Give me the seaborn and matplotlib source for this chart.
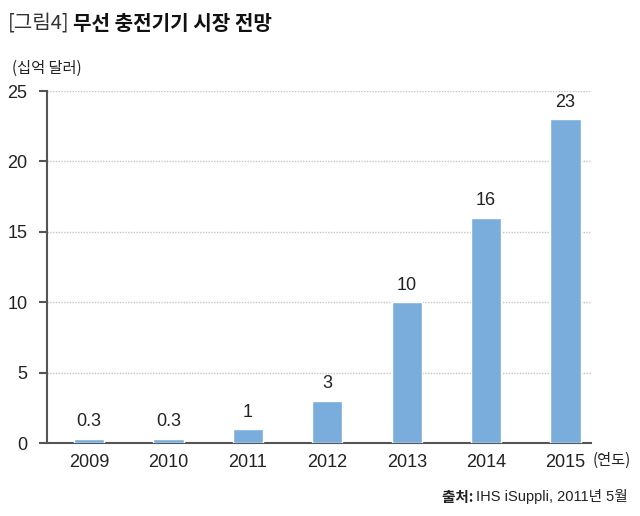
import matplotlib
matplotlib.use("Agg")
import matplotlib.pyplot as plt
from matplotlib import font_manager
import seaborn as sns
import pandas as pd

years = ["2009", "2010", "2011", "2012", "2013", "2014", "2015"]
values = [0.3, 0.3, 1, 3, 10, 16, 23]
value_labels = ["0.3", "0.3", "1", "3", "10", "16", "23"]
yticks = [0, 5, 10, 15, 20, 25]

title_tag = "[그림4]"
title_main = "무선 충전기기 시장 전망"
unit_label = "(십억 달러)"
year_unit = "(연도)"
source_bold = "출처: "
source_rest = "IHS iSuppli, 2011년 5월"

sns.set_style("white")
names = {f.name for f in font_manager.fontManager.ttflist}
narrow = "Liberation Sans Narrow" if "Liberation Sans Narrow" in names else "Liberation Sans"
plt.rcParams["font.family"] = [narrow, "Noto Sans CJK KR", "DejaVu Sans"]
kr = ["Noto Sans CJK KR", "DejaVu Sans"]

df = pd.DataFrame({"year": years, "value": values})

fig = plt.figure(figsize=(6.4, 5.16), dpi=100)
ax = fig.add_axes([47/640, 1-443/516, (591-47)/640, (443-91)/516])

sns.barplot(data=df, x="year", y="value", color="#7aaddc", width=0.38,
            saturation=1, ax=ax, zorder=3)
for i, p in enumerate(ax.patches):
    ax.annotate(value_labels[i], (p.get_x()+p.get_width()/2, p.get_height()),
                xytext=(0, 6), textcoords="offset points", ha="center", va="bottom",
                fontsize=13, color="#222222")

ax.set_xlim(-0.53, 6.32)
ax.set_ylim(0, 25)
ax.set_yticks(yticks)
ax.set_xlabel("")
ax.set_ylabel("")
ax.yaxis.grid(True, linestyle=(0, (1, 1)), color="#c4c4c4", linewidth=1, zorder=0)
ax.xaxis.grid(False)
for s in ["top", "right"]:
    ax.spines[s].set_visible(False)
for s in ["left", "bottom"]:
    ax.spines[s].set_color("#555555")
    ax.spines[s].set_linewidth(1.5)
ax.tick_params(axis="y", length=6, width=1.5, color="#555555", labelsize=13,
               labelcolor="#222222", pad=8, left=True)
ax.tick_params(axis="x", length=0, labelsize=13, labelcolor="#222222", pad=8)

fig.text(593/640, 1-460/516, year_unit, ha="left", va="center", fontsize=11,
         color="#222222", family=kr)
fig.text(12/640, 1-68/516, unit_label, ha="left", va="center", fontsize=11,
         color="#222222", family=kr)

fig.canvas.draw()
r = fig.canvas.get_renderer()
t1 = fig.text(8/640, 1-23/516, title_tag, ha="left", va="center", fontsize=14.5,
              color="#333333", family=kr)
bb = t1.get_window_extent(r)
fig.text(bb.x1/640 + 3/640, 1-23/516, title_main, ha="left", va="center",
         fontsize=14.5, fontweight="bold", color="#111111", family=kr)

t2 = fig.text(628/640, 1-497/516, source_rest, ha="right", va="center", fontsize=10.5,
              color="#222222", family=[narrow] + kr)
bb2 = t2.get_window_extent(r)
fig.text(bb2.x0/640, 1-497/516, source_bold, ha="right", va="center", fontsize=10.5,
         fontweight="bold", color="#222222", family=kr)

fig.savefig("out.png", dpi=100)
